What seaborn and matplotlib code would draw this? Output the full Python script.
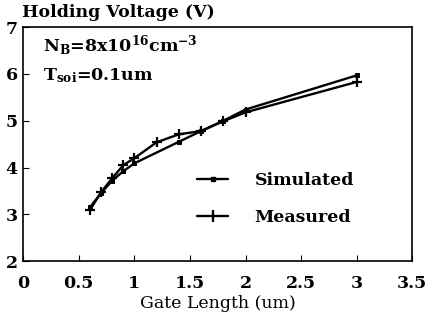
import numpy as np
import pandas as pd
import seaborn as sns
import matplotlib.pyplot as plt
from matplotlib.lines import Line2D

# data
sim_x = [0.6, 0.7, 0.8, 0.9, 1.0, 1.4, 1.6, 1.8, 2.0, 3.0]
sim_y = [3.15, 3.45, 3.72, 3.92, 4.09, 4.55, 4.78, 5.00, 5.24, 5.97]
meas_x = [0.6, 0.7, 0.8, 0.9, 1.0, 1.2, 1.4, 1.6, 1.8, 2.0, 3.0]
meas_y = [3.09, 3.47, 3.77, 4.05, 4.20, 4.54, 4.71, 4.78, 4.99, 5.18, 5.83]
x_ticks = [0, 0.5, 1, 1.5, 2, 2.5, 3, 3.5]
x_tick_labels = ["0", "0.5", "1", "1.5", "2", "2.5", "3", "3.5"]
y_ticks = [2, 3, 4, 5, 6, 7]

sim = pd.DataFrame({"L": sim_x, "V": sim_y})
meas = pd.DataFrame({"L": meas_x, "V": meas_y})

sns.set_style("white")
plt.rcParams["font.family"] = ["DejaVu Serif"]
plt.rcParams["font.weight"] = "bold"
plt.rcParams["mathtext.fontset"] = "dejavuserif"
plt.rcParams["text.color"] = "black"
plt.rcParams["xtick.color"] = "black"
plt.rcParams["ytick.color"] = "black"
plt.rcParams["axes.labelcolor"] = "black"

fig = plt.figure(figsize=(4.29, 3.2), dpi=100)
ax = fig.add_axes([0.054, 0.184, 0.907, 0.731])

sns.lineplot(data=sim, x="L", y="V", color="black", marker="s", markersize=3,
             mec="black", mfc="black", lw=1.7, sort=False, ax=ax)
sns.lineplot(data=meas, x="L", y="V", color="black", marker="+", markersize=7.5,
             mec="black", markeredgewidth=1.6, lw=1.7, sort=False, ax=ax)

ax.set_xlim(0, 3.5)
ax.set_ylim(2, 7)
ax.set_xticks(x_ticks)
ax.set_xticklabels(x_tick_labels)
ax.set_yticks(y_ticks)
ax.tick_params(direction="in", length=4, width=0.8, labelsize=12.5,
               bottom=True, left=True)
ax.tick_params(axis="x", pad=10)
ax.tick_params(axis="y", pad=4)
for s in ax.spines.values():
    s.set_color("black")
    s.set_linewidth(1.2)

ax.set_xlabel("Gate Length (um)", fontsize=12.5, labelpad=2)
ax.set_ylabel("")
fig.text(0.052, 0.935, "Holding Voltage (V)", fontsize=12.5, ha="left", va="bottom")

ax.text(0.05, 0.92, r"N$_\mathbf{B}$=8x10$^\mathbf{16}$cm$^\mathbf{-3}$",
        transform=ax.transAxes, fontsize=12.5, va="center")
ax.text(0.05, 0.795, r"T$_\mathbf{soi}$=0.1um",
        transform=ax.transAxes, fontsize=12.5, va="center")

handles = [
    Line2D([], [], color="black", lw=1.7, marker="s", markersize=3),
    Line2D([], [], color="black", lw=1.7, marker="|", markersize=8, markeredgewidth=1.7),
]
ax.legend(handles, ["Simulated", "Measured"], loc="lower right",
          bbox_to_anchor=(0.89, 0.085), frameon=False, fontsize=12.5,
          handlelength=1.8, labelspacing=1.15, handletextpad=1.5)

fig.savefig("out.png", dpi=100)
